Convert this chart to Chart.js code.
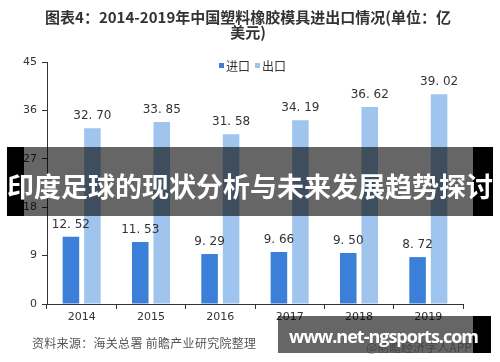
<!DOCTYPE html>
<html>
<head>
<meta charset="utf-8">
<script src="https://cdn.jsdelivr.net/npm/chart.js@4/dist/chart.umd.min.js"></script>
<style>
  body { margin: 0; background: #fff; }
  #wrap { position: relative; width: 500px; height: 362px; overflow: hidden; }
  canvas { position: absolute; left: 0; top: 0; }
  .abs { position: absolute; }
  #titulo { left: 0; width: 496px; top: 9px; text-align: center; font: bold 15px "Noto Sans CJK SC", sans-serif; color: #333; line-height: 15px; }
  #fonte { left: 32px; top: 334px; font: 12px "Noto Sans CJK SC", sans-serif; color: #555; letter-spacing: 0.3px; }
  #app { left: 366px; top: 338px; font: 12px "Noto Sans CJK SC", sans-serif; color: #aaa; }
  #faixaTexto { left: 0; width: 500px; top: 166px; text-align: center; font: bold 27px "Noto Sans CJK SC", sans-serif; color: #fff; line-height: 40px; white-space: nowrap; }
  #siteTexto { left: 289px; top: 322px; font: bold 18px "Open Sans", sans-serif; letter-spacing: -1px; color: #fff; line-height: 28px; white-space: nowrap; }
</style>
</head>
<body>
<div id="wrap">
  <canvas id="grafico" width="500" height="362"></canvas>
  <div id="titulo" class="abs">图表4：2014-2019年中国塑料橡胶模具进出口情况(单位：亿<br>美元)</div>
  <div id="fonte" class="abs">资料来源：海关总署 前瞻产业研究院整理</div>
  <div id="app" class="abs">@前瞻经济学人APP</div>

  <!-- faixa preta no meio -->
  <div class="abs" style="left:7px;top:147px;width:17px;height:69px;background:#000"></div>
  <div class="abs" style="left:24px;top:147px;width:449px;height:69px;background:rgba(0,0,0,0.6)"></div>
  <div class="abs" style="left:473px;top:147px;width:20px;height:69px;background:#000"></div>
  <div id="faixaTexto" class="abs">印度足球的现状分析与未来发展趋势探讨</div>

  <!-- marca do site embaixo -->
  <div class="abs" style="left:278px;top:316px;width:195px;height:37px;background:rgba(0,0,0,0.6)"></div>
  <div class="abs" style="left:473px;top:316px;width:18px;height:37px;background:#000"></div>
  <div id="siteTexto" class="abs">www.net-ngsports.com</div>
</div>

<script>
// === Dados do gráfico ===
const anos = ["2014", "2015", "2016", "2017", "2018", "2019"];
const importacao = [12.52, 11.53, 9.29, 9.66, 9.50, 8.72];
const exportacao = [32.70, 33.85, 31.58, 34.19, 36.62, 39.02];
const nomesSeries = ["进口", "出口"];
const coresSeries = ["#3b7fd8", "#9fc4ee"];
const marcasY = [0, 9, 18, 27, 36, 45];

const textoCor = "#333";

// Legenda desenhada à mão (fica dentro da área do gráfico)
const legendaPlugin = {
    id: "legendaManual",
    afterDraw(chart) {
        const ctx = chart.ctx;
        ctx.save();
        ctx.font = '12px "Noto Sans CJK SC", sans-serif';
        ctx.textBaseline = "middle";
        let x = 219;
        const y = 66;
        chart.data.datasets.forEach((ds) => {
            ctx.fillStyle = ds.backgroundColor;
            ctx.fillRect(x, y - 3, 5, 5);
            ctx.fillStyle = textoCor;
            ctx.fillText(ds.label, x + 7, y);
            x += 7 + ctx.measureText(ds.label).width + 5;
        });
        ctx.restore();
    },
};

// Valores em cima das barras
const rotulosPlugin = {
    id: "rotulos",
    afterDatasetsDraw(chart) {
        const ctx = chart.ctx;
        ctx.save();
        ctx.font = '12px "DejaVu Sans", sans-serif';
        ctx.fillStyle = textoCor;
        ctx.textAlign = "center";
        ctx.textBaseline = "middle";
        chart.data.datasets.forEach((ds, i) => {
            chart.getDatasetMeta(i).data.forEach((bar, j) => {
                const txt = ds.data[j].toFixed(2).replace(".", ". ");
                ctx.fillText(txt, bar.x, bar.y - 12);
            });
        });
        ctx.restore();
    },
};

new Chart(document.getElementById("grafico"), {
    type: "bar",
    data: {
        labels: anos,
        datasets: [
            { label: nomesSeries[0], data: importacao, backgroundColor: coresSeries[0] },
            { label: nomesSeries[1], data: exportacao, backgroundColor: coresSeries[1] },
        ],
    },
    options: {
        responsive: false,
        animation: false,
        categoryPercentage: 0.62,
        barPercentage: 0.77,
        layout: { padding: { left: 0, right: 37, top: 62, bottom: 0 } },
        plugins: {
            legend: { display: false },
            tooltip: { enabled: false },
            title: { display: false },
        },
        scales: {
            x: {
                grid: { offset: true, drawOnChartArea: false, tickLength: 5, color: textoCor },
                border: { color: textoCor },
                ticks: { color: textoCor, padding: 2, font: { size: 11, family: '"DejaVu Sans", sans-serif' } },
                afterFit(s) { s.height = 58; },
            },
            y: {
                min: 0,
                max: 45,
                afterBuildTicks(s) { s.ticks = marcasY.map((v) => ({ value: v })); },
                grid: { drawOnChartArea: false, tickLength: 5, color: textoCor },
                border: { color: textoCor },
                ticks: { color: textoCor, padding: 5, font: { size: 11, family: '"DejaVu Sans", sans-serif' } },
                afterFit(s) { s.width = 47; },
            },
        },
    },
    plugins: [legendaPlugin, rotulosPlugin],
});
</script>
</body>
</html>
